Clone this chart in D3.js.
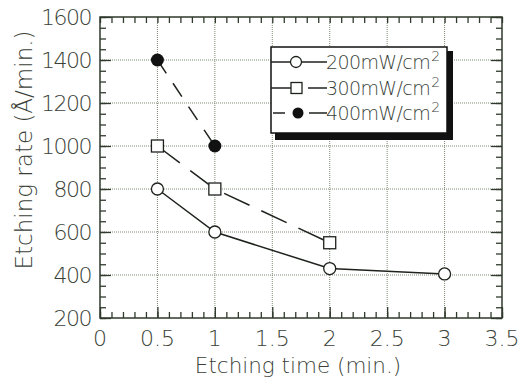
<!DOCTYPE html>
<html>
<head>
<meta charset="utf-8">
<script src="https://cdn.jsdelivr.net/npm/d3@7"></script>
<style>
  body { margin: 0; background: #fff; }
  text { font-family: "DejaVu Sans", Lato, sans-serif; fill: #3a3f38; }
</style>
</head>
<body>
<div id="chart"></div>
<script>
// data
const times200 = [0.5, 1, 2, 3];
const rate200 = [800, 600, 430, 405];
const times300 = [0.5, 1, 2];
const rate300 = [1000, 800, 550];
const times400 = [0.5, 1];
const rate400 = [1400, 1000];
const seriesNames = ['200mW/cm', '300mW/cm', '400mW/cm'];
const xTicks = [0, 0.5, 1, 1.5, 2, 2.5, 3, 3.5];
const yTicks = [200, 400, 600, 800, 1000, 1200, 1400, 1600];

const width = 529, height = 383;
const margin = { left: 100, right: 27, top: 17, bottom: 65 };
const w = width - margin.left - margin.right;
const h = height - margin.top - margin.bottom;

const svg = d3.select('#chart').append('svg')
  .attr('width', width)
  .attr('height', height);
const g = svg.append('g')
  .attr('transform', `translate(${margin.left}, ${margin.top})`);

const x = d3.scaleLinear().domain([0, 3.5]).range([0, w]);
const y = d3.scaleLinear().domain([200, 1600]).range([h, 0]);

const axisColor = '#2f3a2c';
const gridColor = '#7d8a74';

// dotted grid
g.append('g').selectAll('line').data(xTicks.slice(1, -1)).join('line')
  .attr('x1', d => x(d)).attr('x2', d => x(d))
  .attr('y1', 0).attr('y2', h)
  .attr('stroke', gridColor).attr('stroke-width', 1).attr('stroke-dasharray', '1,1');
g.append('g').selectAll('line').data(yTicks.slice(1, -1)).join('line')
  .attr('x1', 0).attr('x2', w)
  .attr('y1', d => y(d)).attr('y2', d => y(d))
  .attr('stroke', gridColor).attr('stroke-width', 1).attr('stroke-dasharray', '1,1');

// axes with inward ticks
const minorX = d3.range(0, 3.5001, 0.1);
const minorY = d3.range(200, 1600.01, 50);
function styleAxis(sel) {
  sel.select('.domain').remove();
  sel.selectAll('line').attr('stroke', axisColor).attr('stroke-width', 1.3);
}
g.append('g').attr('transform', `translate(0, ${h})`)
  .call(d3.axisBottom(x).tickValues(minorX).tickSize(-6).tickFormat(''))
  .call(styleAxis);
g.append('g')
  .call(d3.axisTop(x).tickValues(minorX).tickSize(-6).tickFormat(''))
  .call(styleAxis);
g.append('g')
  .call(d3.axisLeft(y).tickValues(minorY).tickSize(-6).tickFormat(''))
  .call(styleAxis);
g.append('g').attr('transform', `translate(${w}, 0)`)
  .call(d3.axisRight(y).tickValues(minorY).tickSize(-6).tickFormat(''))
  .call(styleAxis);
// major ticks longer
g.append('g').attr('transform', `translate(0, ${h})`)
  .call(d3.axisBottom(x).tickValues(xTicks).tickSize(-11).tickFormat(''))
  .call(styleAxis);
g.append('g')
  .call(d3.axisLeft(y).tickValues(yTicks).tickSize(-11).tickFormat(''))
  .call(styleAxis);
g.append('g').attr('transform', `translate(${w}, 0)`)
  .call(d3.axisRight(y).tickValues(yTicks).tickSize(-11).tickFormat(''))
  .call(styleAxis);

g.append('rect').attr('width', w).attr('height', h)
  .attr('fill', 'none').attr('stroke', axisColor).attr('stroke-width', 1.5);

// tick labels
g.append('g').selectAll('text').data(xTicks).join('text')
  .attr('x', d => x(d)).attr('y', h + 28)
  .attr('text-anchor', 'middle')
  .attr('font-size', 22).attr('font-weight', 200)
  .text(d => d);
g.append('g').selectAll('text').data(yTicks).join('text')
  .attr('x', -9).attr('y', d => y(d) + 8)
  .attr('text-anchor', 'end')
  .attr('font-size', 22).attr('font-weight', 200)
  .attr('letter-spacing', -1.5)
  .text(d => d);

// axis titles
svg.append('text')
  .attr('x', 298).attr('y', 373)
  .attr('text-anchor', 'middle')
  .attr('font-size', 21.5).attr('font-weight', 200)
  .text('Etching time (min.)');
svg.append('text')
  .attr('transform', 'translate(32, 150) rotate(-90)')
  .attr('text-anchor', 'middle')
  .attr('font-size', 23).attr('font-weight', 200)
  .text('Etching rate (Å/min.)');

// series
const lineColor = '#1e221c';
const line = d3.line().x(d => x(d[0])).y(d => y(d[1]));
const s200 = d3.zip(times200, rate200);
const s300 = d3.zip(times300, rate300);
const s400 = d3.zip(times400, rate400);

g.append('path').datum(s200).attr('d', line)
  .attr('fill', 'none').attr('stroke', lineColor).attr('stroke-width', 1.5);
g.append('path').datum(s300).attr('d', line)
  .attr('fill', 'none').attr('stroke', lineColor).attr('stroke-width', 1.5)
  .attr('stroke-dasharray', '28,13');
g.append('path').datum(s400).attr('d', line)
  .attr('fill', 'none').attr('stroke', lineColor).attr('stroke-width', 1.5)
  .attr('stroke-dasharray', '16,12');

g.append('g').selectAll('circle').data(s200).join('circle')
  .attr('cx', d => x(d[0])).attr('cy', d => y(d[1])).attr('r', 6)
  .attr('fill', '#fff').attr('stroke', lineColor).attr('stroke-width', 1.3);
g.append('g').selectAll('rect').data(s300).join('rect')
  .attr('x', d => x(d[0]) - 6).attr('y', d => y(d[1]) - 6)
  .attr('width', 12).attr('height', 12)
  .attr('fill', '#fff').attr('stroke', lineColor).attr('stroke-width', 1.3);
g.append('g').selectAll('circle').data(s400).join('circle')
  .attr('cx', d => x(d[0])).attr('cy', d => y(d[1])).attr('r', 6.5)
  .attr('fill', '#111');

// legend
const lg = svg.append('g').attr('transform', 'translate(271, 47)');
lg.append('rect').attr('x', 4).attr('y', 4).attr('width', 178).attr('height', 89)
  .attr('fill', '#111');
lg.append('rect').attr('x', 0).attr('y', 0).attr('width', 176).attr('height', 86)
  .attr('fill', '#fff').attr('stroke', '#111').attr('stroke-width', 1.5);
const rows = [15, 41, 66];
rows.forEach((ry, i) => {
  if (i === 0) {
    lg.append('line').attr('x1', 0).attr('x2', 56).attr('y1', ry).attr('y2', ry)
      .attr('stroke', lineColor).attr('stroke-width', 1.5);
    lg.append('circle').attr('cx', 25).attr('cy', ry).attr('r', 5.5)
      .attr('fill', '#fff').attr('stroke', lineColor).attr('stroke-width', 1.3);
  } else if (i === 1) {
    lg.append('line').attr('x1', 0).attr('x2', 20).attr('y1', ry).attr('y2', ry)
      .attr('stroke', lineColor).attr('stroke-width', 1.5);
    lg.append('line').attr('x1', 37).attr('x2', 56).attr('y1', ry).attr('y2', ry)
      .attr('stroke', lineColor).attr('stroke-width', 1.5);
    lg.append('rect').attr('x', 20).attr('y', ry - 5.5).attr('width', 11).attr('height', 11)
      .attr('fill', '#fff').attr('stroke', lineColor).attr('stroke-width', 1.3);
  } else {
    lg.append('line').attr('x1', 2).attr('x2', 14).attr('y1', ry).attr('y2', ry)
      .attr('stroke', lineColor).attr('stroke-width', 1.5);
    lg.append('line').attr('x1', 38).attr('x2', 56).attr('y1', ry).attr('y2', ry)
      .attr('stroke', lineColor).attr('stroke-width', 1.5);
    lg.append('circle').attr('cx', 27).attr('cy', ry).attr('r', 5.5)
      .attr('fill', '#111');
  }
  const t = lg.append('text').attr('x', 55).attr('y', ry + 7)
    .attr('font-size', 19).attr('font-weight', 200)
    .attr('letter-spacing', -0.6);
  t.append('tspan').text(seriesNames[i]);
  t.append('tspan').attr('dx', 1).attr('dy', -8).attr('font-size', 14).text('2');
});
</script>
</body>
</html>
